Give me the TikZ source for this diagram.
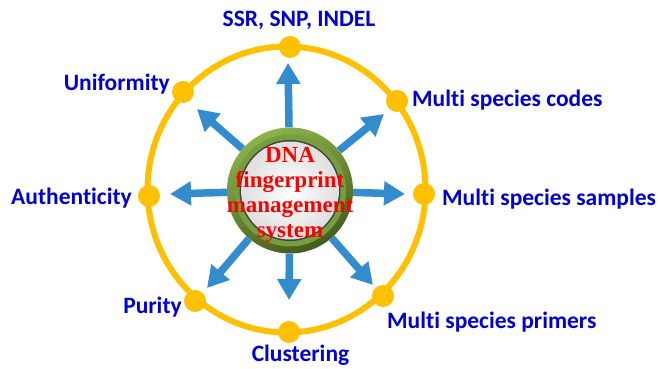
\documentclass[tikz,border=0pt]{standalone}
\usepackage{fontspec}
\setmainfont{Carlito}[Ligatures=NoCommon]
\newfontfamily\corefont{Liberation Serif}
\usetikzlibrary{arrows.meta}

\definecolor{ringyellow}{RGB}{255,192,0}
\definecolor{arrowblue}{RGB}{50,140,205}
\definecolor{labelblue}{RGB}{0,0,215}
\definecolor{ringlight}{RGB}{140,178,74}
\definecolor{ringdark}{RGB}{68,92,30}
\definecolor{ringmid}{RGB}{118,158,60}

\begin{document}
\begin{tikzpicture}[x=1pt, y=1pt,
    lbl/.style={text=labelblue, font=\fontsize{23.5}{25}\selectfont\bfseries, inner sep=0pt},
    spot/.style={circle, fill=ringyellow, minimum size=22pt, inner sep=0pt},
    spoke/.style={draw=arrowblue, line width=7.5pt, -{Triangle[length=21pt, width=23pt]}}]
  \useasboundingbox (0,0) rectangle (658,369);

  % outer ring with the eight spots
  \draw[ringyellow, line width=6pt] (286.5,179.5) ellipse (139 and 143);
  \node[spot] (dT)  at (290,322) {};
  \node[spot] (dUR) at (397,268) {};
  \node[spot] (dR)  at (424,175) {};
  \node[spot] (dLR) at (383,73)  {};
  \node[spot] (dB)  at (289,37)  {};
  \node[spot] (dLL) at (195,68)  {};
  \node[spot] (dL)  at (149,173) {};
  \node[spot] (dUL) at (183,277) {};

  % centre
  \node[circle, minimum size=126pt, inner sep=0pt, shading=axis, top color=ringlight,
        bottom color=ringdark, shading angle=25,
        path picture={
          \fill[ringmid] (path picture bounding box.center) circle (56);
          \fill[black!75] (path picture bounding box.center) circle (50.5);
          \shade[inner color=white, outer color=gray!25] (path picture bounding box.center) circle (49);
        },
        label={[align=center, text=red, yshift=-4pt,
                font=\corefont\fontsize{23}{25}\selectfont\bfseries]center:DNA\\fingerprint\\management\\system}
       ] (core) at (290,178.5) {};

  % arrow tips
  \coordinate (tT)  at (288,306);
  \coordinate (tUR) at (384,255);
  \coordinate (tR)  at (405,175);
  \coordinate (tLR) at (373,84);
  \coordinate (tB)  at (289,69);
  \coordinate (tLL) at (207,81);
  \coordinate (tL)  at (170,175);
  \coordinate (tUL) at (197,260);
  \foreach \t in {tT,tUR,tR,tLR,tB,tLL,tL,tUL}
    \draw[spoke] (core) -- (\t);

  % labels
  \node[lbl, anchor=base]      (ssr)     at (299,342)   {SSR, SNP, INDEL};
  \node[lbl, anchor=base west] (codes)   at (412,262)   {Multi species codes};
  \node[lbl, anchor=base west] (samples) at (442,163)   {Multi species samples};
  \node[lbl, anchor=base west] (primers) at (387,40)    {Multi species primers};
  \node[lbl, anchor=base]      (clust)   at (300.5,7)   {Clustering};
  \node[lbl, anchor=base east] (purity)  at (182,55)    {Purity};
  \node[lbl, anchor=base east] (auth)    at (132,164)   {Authenticity};
  \node[lbl, anchor=base east] (unif)    at (170,278)   {Uniformity};
\end{tikzpicture}
\end{document}
